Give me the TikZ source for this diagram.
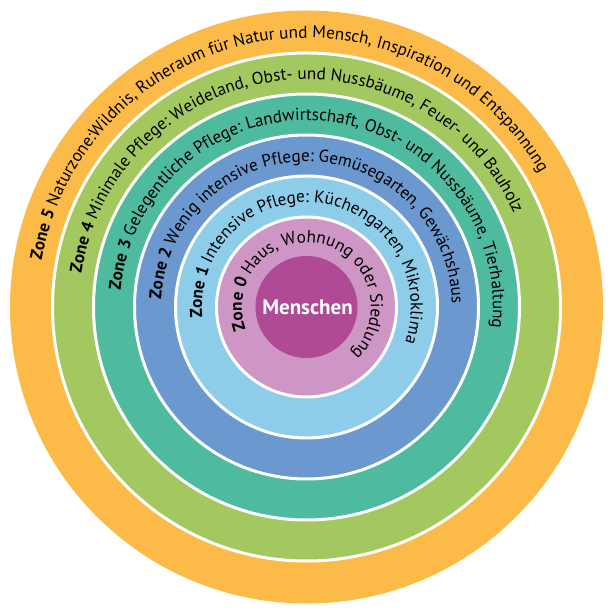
\documentclass[tikz,border=0pt]{standalone}
\usepackage{fontspec}
\setmainfont{PT Sans}
\usetikzlibrary{decorations.text}
\definecolor{cfive}{RGB}{252,187,72}
\definecolor{cfour}{RGB}{163,200,95}
\definecolor{cthree}{RGB}{78,186,158}
\definecolor{ctwo}{RGB}{107,152,207}
\definecolor{cone}{RGB}{142,205,234}
\definecolor{czero}{RGB}{205,150,196}
\definecolor{cmen}{RGB}{176,73,150}
\newcommand\zfm{\fontsize{17.2}{20}\selectfont\mdseries}
\newcommand\zfb{\fontsize{17.2}{20}\selectfont\bfseries}
\tikzset{
  ring/.style={draw=white, line width=3pt},
  zonetext/.style={decorate, decoration={text along path, text align=left, text={#1}}}
}
\begin{document}
\begin{tikzpicture}
\useasboundingbox (-306.5pt,-305pt) rectangle (303.5pt,307pt);
\fill[cfive] (0,0) circle (296.5pt);
\fill[cfour, ring] (0,0) circle (254pt);
\fill[cthree, ring] (0,0) circle (213pt);
\fill[ctwo, ring] (0,0) circle (172pt);
\fill[cone, ring] (0,0) circle (131pt);
\fill[czero, ring] (0,0) circle (90pt);
\fill[cmen] (0,0) circle (51pt);
\node[text=white, font=\fontsize{21}{25}\selectfont\bfseries] (menschen) at (1pt,0) {Menschen};
\path[zonetext={|\zfb|Zone 5 |\zfm|Naturzone:Wildnis, Ruheraum für Natur und Mensch, Inspiration und Entspannung}]
  (170:269pt) arc[start angle=170, end angle=-100, radius=269pt];
\path[zonetext={|\zfb|Zone 4 |\zfm|Minimale Pflege: Weideland, Obst- und Nussbäume, Feuer- und Bauholz}]
  (171.5:227.5pt) arc[start angle=171.5, end angle=-100, radius=227.5pt];
\path[zonetext={|\zfb|Zone 3 |\zfm|Gelegentliche Pflege: Landwirtschaft, Obst- und Nussbäume, Tierhaltung}]
  (175:186.5pt) arc[start angle=175, end angle=-100, radius=186.5pt];
\path[zonetext={|\zfb|Zone 2 |\zfm|Wenig intensive Pflege: Gemüsegarten, Gewächshaus}]
  (177:145.5pt) arc[start angle=177, end angle=-100, radius=145.5pt];
\path[zonetext={|\zfb|Zone 1 |\zfm|Intensive Pflege: Küchengarten, Mikroklima}]
  (186:104.5pt) arc[start angle=186, end angle=-100, radius=104.5pt];
\path[zonetext={|\zfb|Zone 0 |\zfm|Haus, Wohnung oder Siedlung}]
  (200:64.5pt) arc[start angle=200, end angle=-100, radius=64.5pt];
\end{tikzpicture}
\end{document}
